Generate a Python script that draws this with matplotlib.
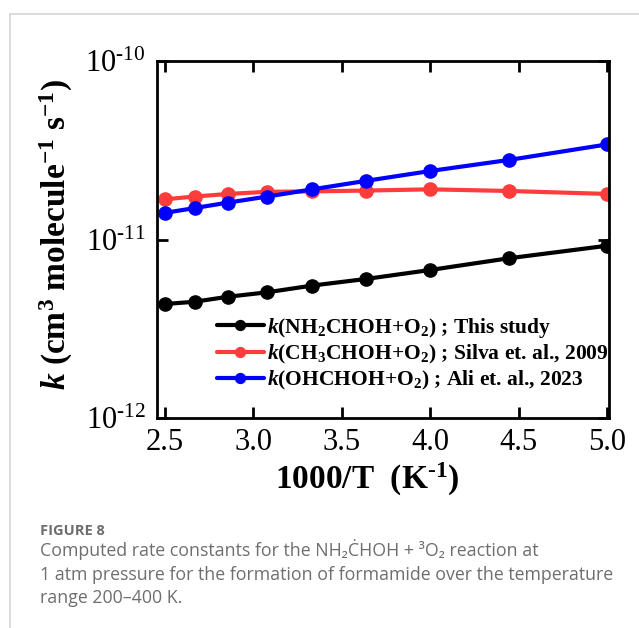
import matplotlib
matplotlib.use("Agg")
import matplotlib.pyplot as plt
from matplotlib.lines import Line2D
from matplotlib.ticker import FixedLocator, NullLocator

# ---- data ----
inv_T = [2.5, 2.667, 2.857, 3.077, 3.333, 3.636, 4.0, 4.444, 5.0]
k_nh2choh = [4.35e-12, 4.48e-12, 4.78e-12, 5.06e-12, 5.52e-12, 6.01e-12, 6.75e-12, 7.85e-12, 9.23e-12]
k_ch3choh = [1.68e-11, 1.74e-11, 1.80e-11, 1.85e-11, 1.86e-11, 1.88e-11, 1.91e-11, 1.87e-11, 1.80e-11]
k_ohchoh = [1.41e-11, 1.50e-11, 1.61e-11, 1.74e-11, 1.91e-11, 2.13e-11, 2.42e-11, 2.79e-11, 3.41e-11]
x_ticks = [2.5, 3.0, 3.5, 4.0, 4.5, 5.0]
x_ticklabels = ["2.5", "3.0", "3.5", "4.0", "4.5", "5.0"]
y_ticks = [1e-12, 1e-11, 1e-10]
y_ticklabels = [r"$\mathregular{10^{\text{-}12}}$", r"$\mathregular{10^{\text{-}11}}$", r"$\mathregular{10^{\text{-}10}}$"]
labels = [
    r"$\mathbfit{k}$(NH$_{\mathbf{2}}$CHOH+O$_{\mathbf{2}}$) ; This study",
    r"$\mathbfit{k}$(CH$_{\mathbf{3}}$CHOH+O$_{\mathbf{2}}$) ; Silva et. al., 2009",
    r"$\mathbfit{k}$(OHCHOH+O$_{\mathbf{2}}$) ; Ali et. al., 2023",
]
colors = ["#000000", "#ff3c3c", "#0000ff"]
caption_head = "FIGURE 8"
caption_lines = [
    "Computed rate constants for the NH\u2082\u010aHOH + \u00b3O\u2082 reaction at",
    "1 atm pressure for the formation of formamide over the temperature",
    "range 200\u2013400 K.",
]

serif = "Liberation Serif"
plt.rcParams["mathtext.fontset"] = "custom"
plt.rcParams["mathtext.rm"] = serif
plt.rcParams["mathtext.it"] = serif + ":italic"
plt.rcParams["mathtext.bf"] = serif + ":bold"
plt.rcParams["mathtext.bfit"] = serif + ":italic:bold"

fig = plt.figure(figsize=(6.39, 6.28), dpi=100)
ax = fig.add_axes([157 / 639, 1 - 418 / 628, 452 / 639, 357 / 628])

series = [k_nh2choh, k_ch3choh, k_ohchoh]
for ys, c, lab in zip(series, colors, labels):
    ax.plot(inv_T, ys, color=c, lw=3, marker="o", ms=9.5, label=lab,
            solid_capstyle="round")

ax.set_yscale("log")
ax.set_xlim(2.455, 5.01)
ax.set_ylim(1e-12, 1e-10)
ax.xaxis.set_major_locator(FixedLocator(x_ticks))
ax.set_xticklabels(x_ticklabels)
ax.yaxis.set_major_locator(FixedLocator(y_ticks))
ax.yaxis.set_minor_locator(NullLocator())
ax.set_yticklabels(y_ticklabels)

for sp in ax.spines.values():
    sp.set_linewidth(2.0)
ax.tick_params(which="major", direction="in", length=8, width=2,
               top=True, right=True, labelsize=22, pad=7)
ax.tick_params(axis="y", pad=8)
for t in ax.get_xticklabels() + ax.get_yticklabels():
    t.set_fontfamily(serif)

ax.set_xlabel(r"1000/T  (K$^{\mathbf{\text{-}1}}$)", fontsize=24, fontweight="bold", family=serif)
ax.xaxis.set_label_coords(0.465, -0.12)
ax.set_ylabel(r"$\mathbfit{k}$ (cm$^{\mathbf{3}}$ molecule$^{\mathbf{-1}}$ s$^{\mathbf{-1}}$)",
              fontsize=24, fontweight="bold", family=serif)
ax.yaxis.set_label_coords(-0.182, 0.515)

leg = ax.legend(loc="upper left", bbox_to_anchor=(0.108, 0.317), frameon=False,
                prop={"family": serif, "weight": "bold", "size": 15.5},
                handlelength=2.2, handletextpad=0.15, labelspacing=0.15,
                borderpad=0, markerscale=0.75)

# caption
gray = "#6e6e6e"
cap_family = ["Open Sans", "DejaVu Sans"]
fig.text(40 / 639, 1 - 535 / 628, caption_head, fontsize=10.5, color=gray,
         family=cap_family, fontweight="bold", va="baseline")
for i, line in enumerate(caption_lines):
    fig.text(40 / 639, 1 - (556 + 23.5 * i) / 628, line, fontsize=12.8, color=gray,
             family=cap_family, va="baseline")

# page border lines
fig.add_artist(Line2D([9.5 / 639, 9.5 / 639], [0, 1 - 14 / 628], color="#d5d5d5", lw=1.2,
                      transform=fig.transFigure))
fig.add_artist(Line2D([9.5 / 639, 1], [1 - 14 / 628, 1 - 14 / 628], color="#d5d5d5", lw=1.2,
                      transform=fig.transFigure))

fig.savefig("out.png", dpi=100)
